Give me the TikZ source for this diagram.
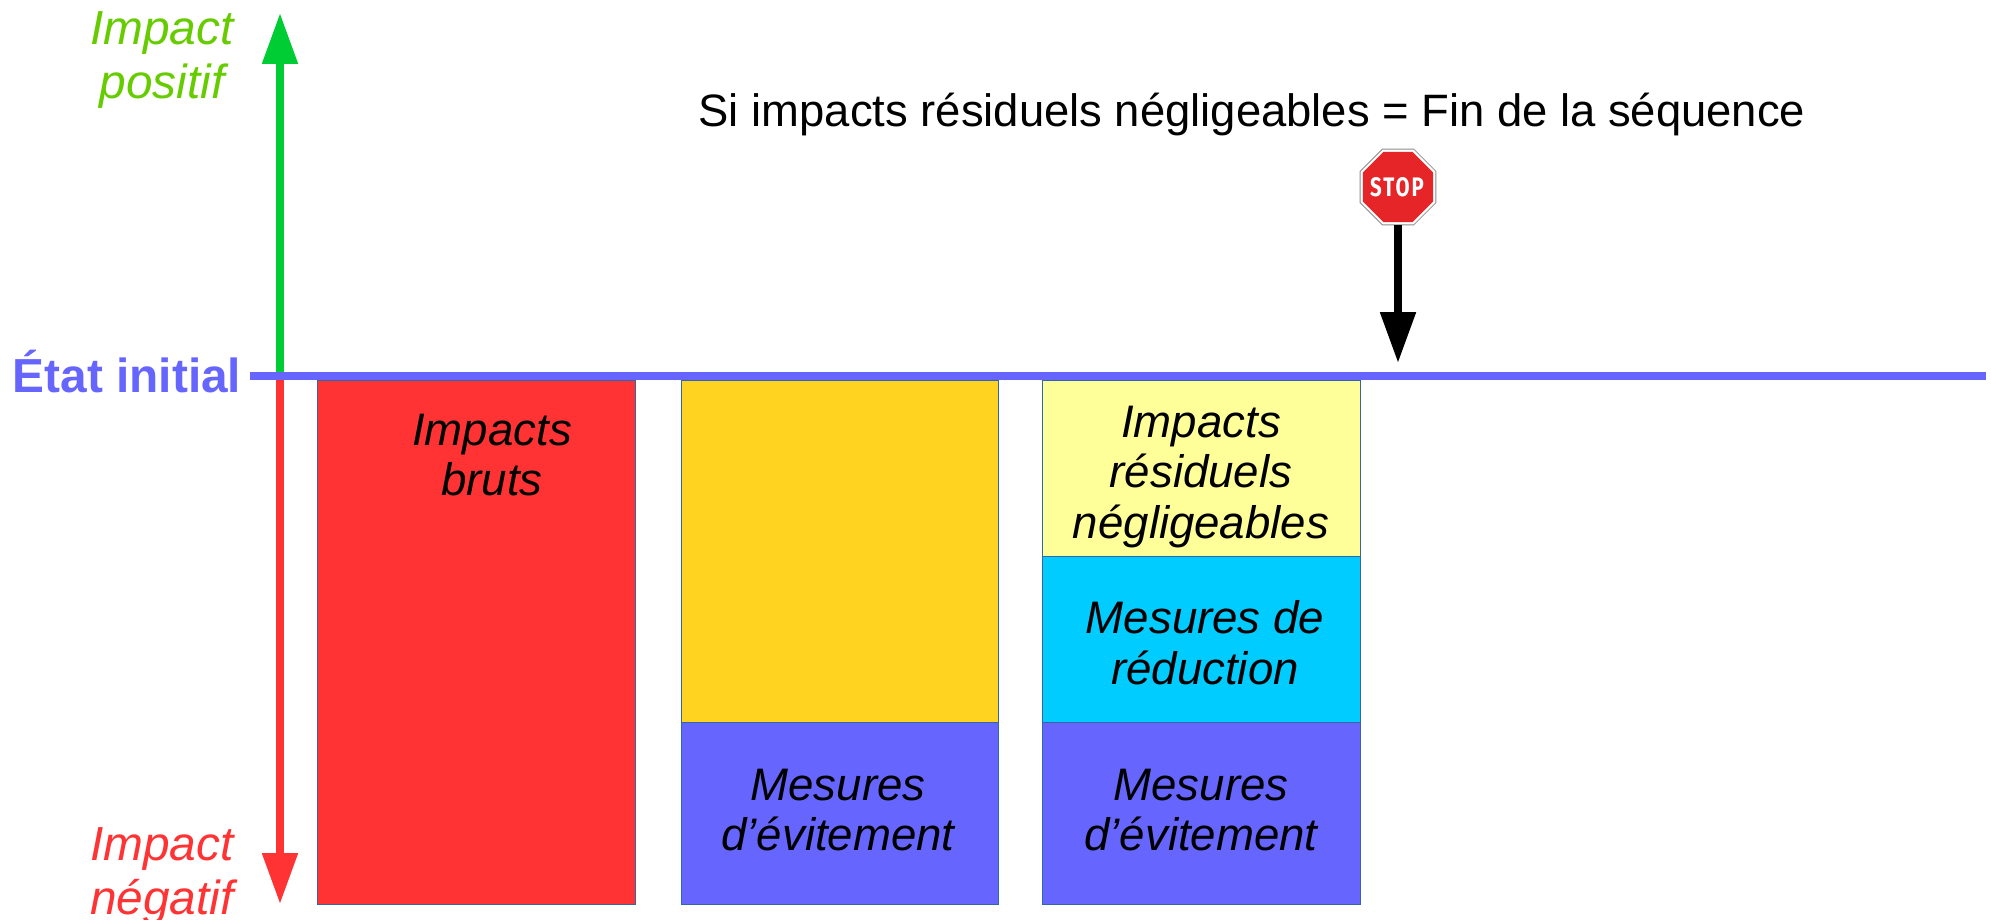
\documentclass[tikz,border=0pt]{standalone}
\usepackage{graphicx}
\usepackage{fontspec}
\setmainfont{Liberation Sans}
\newfontfamily\stopfont[LetterSpace=10]{Fira Sans}
\usetikzlibrary{arrows.meta,shapes.geometric}
\definecolor{cRed}{HTML}{FF3333}
\definecolor{cOrange}{HTML}{FFD320}
\definecolor{cYellow}{HTML}{FFFF99}
\definecolor{cCyan}{HTML}{00CCFF}
\definecolor{cPurple}{HTML}{6666FF}
\definecolor{cGreen}{HTML}{00CC33}
\definecolor{cLime}{HTML}{66CC00}
\definecolor{cStop}{HTML}{E52528}
\definecolor{cEdge}{HTML}{3465A4}
\tikzset{
  bar/.style={draw=cEdge,line width=0.35pt,anchor=north west,inner sep=0pt,outer sep=0pt,minimum width=158.75pt},
  lbl/.style={align=center,font=\fontsize{22.8}{25.4}\selectfont\itshape,inner sep=0pt},
  axlbl/.style={align=center,font=\fontsize{23.9}{27.3}\selectfont\itshape,inner sep=0pt},
  axis/.style={line width=4pt,-{Triangle[length=25.4pt,width=17pt]}},
}
\begin{document}
\begin{tikzpicture}[x=0.5pt,y=-0.5pt]
\useasboundingbox (0,0) rectangle (1991,920);
% bars
\path (317.5,380) node[bar,fill=cRed,minimum height=262pt] (brut) {};
\path (681,380) node[bar,fill=cOrange,minimum height=171.3pt] (reste) {};
\path (681,722.6) node[bar,fill=cPurple,minimum height=90.7pt] (evit) {};
\path (1042.7,380) node[bar,fill=cYellow,minimum height=88pt] (resid) {};
\path (1042.7,556) node[bar,fill=cCyan,minimum height=83.3pt] (reduc) {};
\path (1042.7,722.6) node[bar,fill=cPurple,minimum height=90.7pt] (evitb) {};
% axis
\coordinate (base) at (280,376);
\coordinate (top) at (280,13);
\coordinate (bottom) at (280,904);
\coordinate (hl) at (250,376);
\coordinate (hr) at (1986,376);
\draw[axis,cGreen] (base) -- (top);
\draw[axis,cRed] (base) -- (bottom);
\draw[line width=4pt,cPurple] (hl) -- (hr);
% stop sign
\node[regular polygon,regular polygon sides=8,draw=black!45,fill=white,line width=0.4pt,minimum size=41pt,inner sep=0pt] (stopouter) at (1398,187) {};
\node[regular polygon,regular polygon sides=8,fill=cStop,minimum size=38pt,inner sep=0pt] (stopinner) at (1398,187) {};
\node[text=white,inner sep=0pt,font=\stopfont\fontsize{13}{13}\selectfont] (stop) at (1398,187.5) {\resizebox{28pt}{9.5pt}{\textbf{STOP}}};
\coordinate (tip) at (1398,363);
\draw[axis,black] (stopouter.south -| tip) -- (tip);
% labels
\node[axlbl,text=cLime] (pos) at (162,60) {Impact\\positif};
\node[axlbl,text=cRed] (neg) at (162,876) {Impact\\négatif};
\node[font=\fontsize{23.9}{25}\selectfont\bfseries,text=cPurple,inner sep=0pt] (etat) at (127,372) {État initial};
\node[font=\fontsize{22.7}{25}\selectfont,inner sep=0pt] (fin) at (1252,114) {Si impacts résiduels négligeables = Fin de la séquence};
\node[lbl] (t1) at (492,455) {Impacts\\bruts};
\node[lbl] (t2) at (838,810) {Mesures\\d’évitement};
\node[lbl] (t3) at (1201,477) {Impacts\\résiduels\\négligeables};
\node[lbl] (t4) at (1205,642.5) {Mesures de\\réduction};
\node[lbl] (t5) at (1201,810) {Mesures\\d’évitement};
\end{tikzpicture}
\end{document}
